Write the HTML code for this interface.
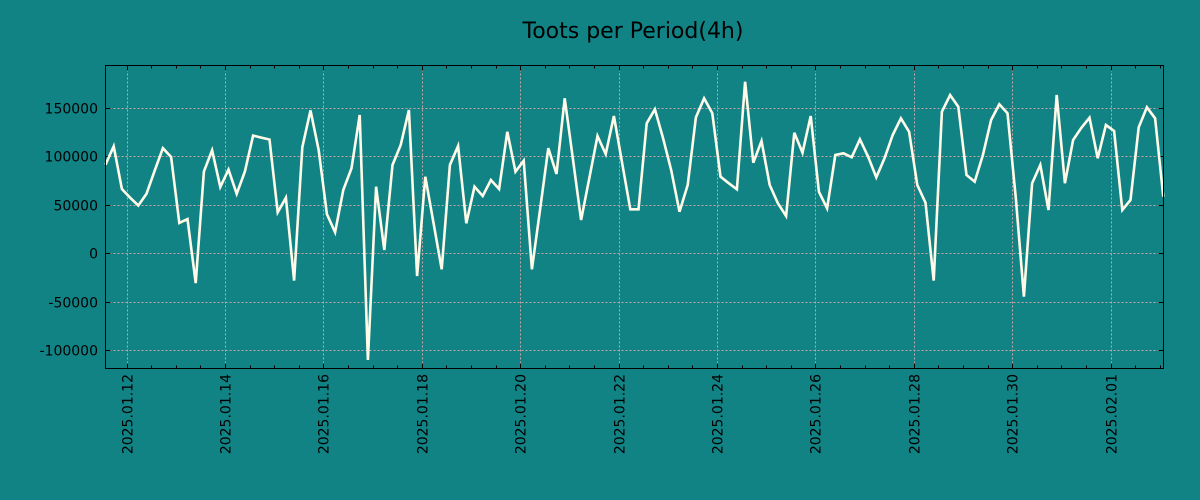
<!DOCTYPE html>
<html><head><meta charset="utf-8"><style>
html,body{margin:0;padding:0;background:#118385;}
svg{display:block;font-family:"DejaVu Sans","Liberation Sans",sans-serif;}
</style></head><body>
<svg id="chart" width="1200" height="500" xmlns="http://www.w3.org/2000/svg">
<rect width="1200" height="500" fill="#118385"/>
<text x="633" y="38" font-size="22" text-anchor="middle" fill="#000">Toots per Period(4h)</text>
<g id="grid"></g>
<g id="axes"></g>
<path id="line" fill="none" stroke="#fffbe8" stroke-width="2.6" stroke-linejoin="miter"/>
<rect x="105.5" y="65.5" width="1058" height="303" fill="none" stroke="#000" stroke-width="1"/>
</svg>
<script>
// period index (4h steps from start) and toots per period
const periods = [];
for (let i = 0; i < 130; i++) periods.push(i);
const toots = [91000,110000,66000,57000,49000,61000,85000,108000,99000,31000,
35000,-31000,84000,106000,68000,86000,61000,84000,121000,119000,
117000,42000,57000,-28500,109000,147000,106000,40000,21300,65000,
87300,142300,-110300,68400,3100,90700,111300,147400,-23700,78700,
31000,-16800,90700,110300,30600,68400,58800,75300,66000,125000,
83800,95200,-16800,45000,108000,81400,159500,97000,34000,77000,
120600,102000,141200,93000,45000,45000,133700,148100,118200,85000,
42600,70100,139900,159500,144000,78700,72000,65700,176600,93100,
115500,70100,51200,38100,124000,103400,141200,63200,46100,101000,
102800,98700,117200,99300,78000,97600,121600,138900,125000,70100,
51900,-28500,145700,162900,150800,80400,73500,101000,137100,153300,
144000,58000,-45000,71900,90700,44300,162900,71900,116500,129000,
139500,97600,132000,125800,44300,54600,129600,150200,138900,58000];
const yTicks = [-100000,-50000,0,50000,100000,150000];
const xTickLabels = ["2025.01.12","2025.01.14","2025.01.16","2025.01.18","2025.01.20","2025.01.22","2025.01.24","2025.01.26","2025.01.28","2025.01.30","2025.02.01"];
const startOffsetHours = -10.25; // start time relative to 2025-01-12 00:00
const periodHours = 4;

const L=105.5,R=1163.5,T=65.5,B=368.5;
const pxPerHour = 49.2/24;
function xHours(h){ return L + (h - startOffsetHours)*pxPerHour; }
function xIdx(i){ return xHours(i*periodHours + startOffsetHours); }
function y(v){ return 253 - v*48.5/50000; }
const NS="http://www.w3.org/2000/svg";
function mk(tag,attrs,parent){const e=document.createElementNS(NS,tag);for(const k in attrs)e.setAttribute(k,attrs[k]);parent.appendChild(e);return e;}
const grid=document.getElementById('grid'), axes=document.getElementById('axes');

yTicks.forEach(v=>{
  const yy=Math.round(y(v))+0.5;
  const g=mk('line',{x1:L,x2:R,y1:yy,y2:yy,stroke:'#c9a3a3','stroke-width':1,'stroke-dasharray':'2,2'},grid);
  
  
  const t1=mk('line',{x1:L,x2:L+5,y1:yy,y2:yy,stroke:'#000'},axes);
  
  
  const t2=mk('line',{x1:R-5,x2:R,y1:yy,y2:yy,stroke:'#000'},axes);
  
  
  const lb=mk('text',{x:98,y:yy+5,'font-size':14,'text-anchor':'end',fill:'#000'},axes);
  lb.textContent=String(v);
  
  
});
// minor y ticks every 10000? (matplotlib classic has none) skip

xTickLabels.forEach((s,k)=>{
  const xx=Math.round(xHours(k*48))+0.5;
  const g=mk('line',{x1:xx,x2:xx,y1:T,y2:B,stroke:'#c9a3a3','stroke-width':1,'stroke-dasharray':'2,2'},grid);
  
  
  const t1=mk('line',{x1:xx,x2:xx,y1:B-5,y2:B,stroke:'#000'},axes);
  
  
  const t2=mk('line',{x1:xx,x2:xx,y1:T,y2:T+5,stroke:'#000'},axes);
  
  
  const lb=mk('text',{x:0,y:0,'font-size':14,'text-anchor':'end',fill:'#000',transform:`translate(${xx+5},374) rotate(-90)`},axes);
  lb.textContent=s;
  
  
});
for(let h=-12;h<520;h+=12){
  const xx=Math.round(xHours(h))+0.5;
  if(xx<L||xx>R) continue;
  const m1=mk('line',{x1:xx,x2:xx,y1:B-3,y2:B,stroke:'#000'},axes);
  
  
  const m2=mk('line',{x1:xx,x2:xx,y1:T,y2:T+3,stroke:'#000'},axes);
  
  
}
document.getElementById('line').setAttribute('d',
  toots.map((v,i)=>(i?'L':'M')+xIdx(periods[i]).toFixed(1)+','+y(v).toFixed(1)).join(' '));
</script>
</body></html>
